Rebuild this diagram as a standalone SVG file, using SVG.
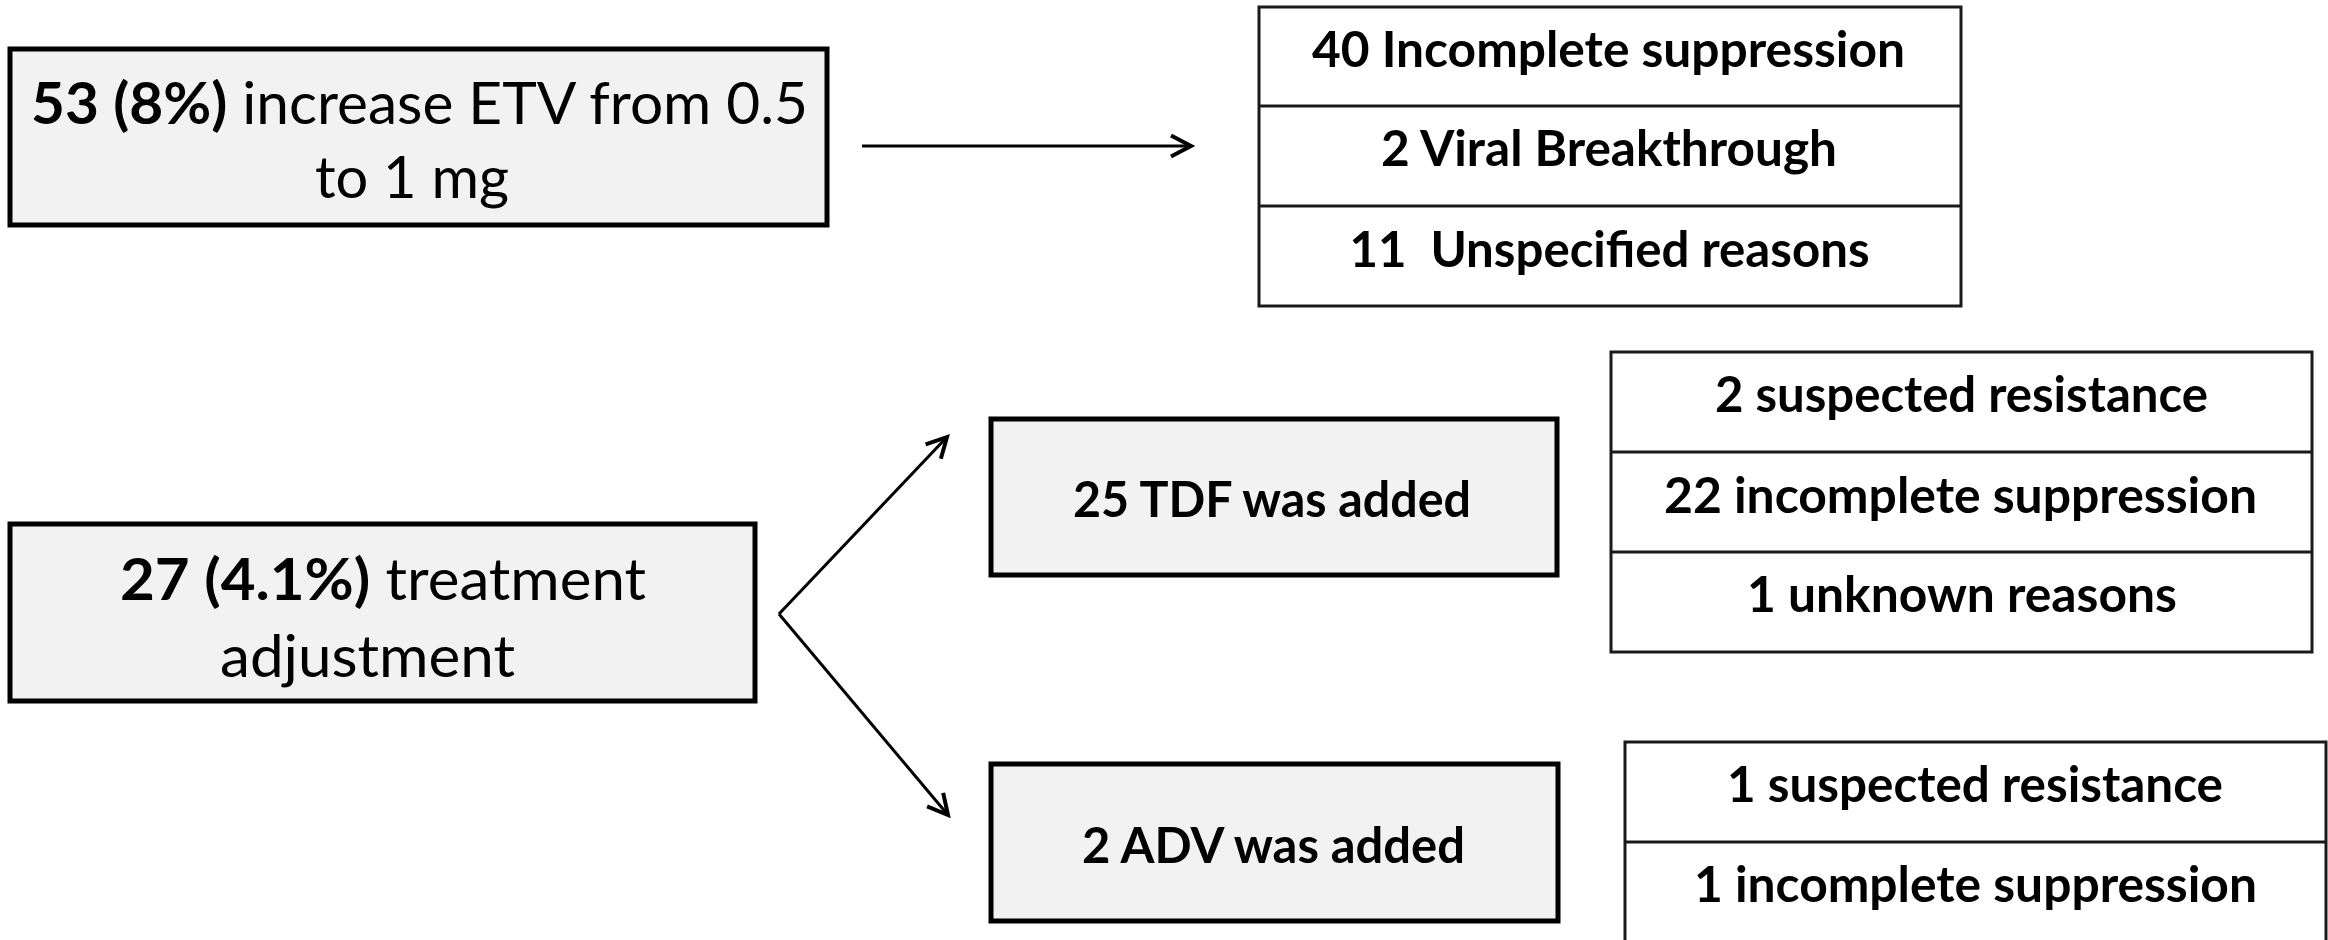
<svg xmlns="http://www.w3.org/2000/svg" width="2328" height="940" viewBox="0 0 2328 940">
<style>
.box{fill:#f2f2f2;stroke:#000;stroke-width:5}
.tbl{fill:#fff;stroke:#1a1a1a;stroke-width:3}
.div{stroke:#1a1a1a;stroke-width:3}
.t{font-family:Lato,"Liberation Sans",sans-serif;fill:#000;text-anchor:middle}
.b{font-weight:bold}
.big{font-size:58px}
.tb{font-size:50px;font-weight:bold}
.conn{stroke:#000;stroke-width:3;fill:none}
</style>
<defs>
<marker id="arr" markerUnits="userSpaceOnUse" markerWidth="40" markerHeight="40" viewBox="-30 -20 40 40" refX="0" refY="0" orient="auto">
<path d="M-20,-10.5 L0,0 L-20,10.5" fill="none" stroke="#000" stroke-width="4"/>
</marker>
</defs>
<rect width="2328" height="940" fill="#fff"/>
<g id="connectors">
<line class="conn" x1="862" y1="146" x2="1191" y2="146" marker-end="url(#arr)"/>
<line class="conn" x1="779" y1="614" x2="947" y2="437" marker-end="url(#arr)"/>
<line class="conn" x1="779" y1="614" x2="948" y2="815" marker-end="url(#arr)"/>
</g>
<g id="node-increase">
<rect class="box" x="10" y="49" width="817" height="176"/>
<text class="t big" x="419.5" y="124" textLength="777" lengthAdjust="spacingAndGlyphs"><tspan class="b">53 (8%)</tspan> increase ETV from 0.5</text>
<text class="t big" x="412" y="198" textLength="194" lengthAdjust="spacingAndGlyphs">to 1 mg</text>
</g>
<g id="node-reasons1">
<rect class="tbl" x="1259" y="7" width="702" height="299"/>
<line class="div" x1="1259" y1="106" x2="1961" y2="106"/>
<line class="div" x1="1259" y1="206" x2="1961" y2="206"/>
<text class="t tb" x="1608.5" y="67" textLength="593" lengthAdjust="spacingAndGlyphs">40 Incomplete suppression</text>
<text class="t tb" x="1609" y="166" textLength="456" lengthAdjust="spacingAndGlyphs">2 Viral Breakthrough</text>
<text class="t tb" x="1609.5" y="267" textLength="520" lengthAdjust="spacingAndGlyphs" xml:space="preserve">11  Unspecified reasons</text>
</g>
<g id="node-adjust">
<rect class="box" x="10" y="524" width="745" height="177"/>
<text class="t big" x="383" y="600" textLength="526" lengthAdjust="spacingAndGlyphs"><tspan class="b">27 (4.1%)</tspan> treatment</text>
<text class="t big" x="367.5" y="677" textLength="295" lengthAdjust="spacingAndGlyphs">adjustment</text>
</g>
<g id="node-tdf">
<rect class="box" x="991" y="419" width="566" height="156"/>
<text class="t tb" x="1272" y="517" textLength="398" lengthAdjust="spacingAndGlyphs">25 TDF was added</text>
</g>
<g id="node-reasons2">
<rect class="tbl" x="1611" y="352" width="701" height="300"/>
<line class="div" x1="1611" y1="452" x2="2312" y2="452"/>
<line class="div" x1="1611" y1="552" x2="2312" y2="552"/>
<text class="t tb" x="1961.5" y="412" textLength="493" lengthAdjust="spacingAndGlyphs">2 suspected resistance</text>
<text class="t tb" x="1960.5" y="513" textLength="593" lengthAdjust="spacingAndGlyphs">22 incomplete suppression</text>
<text class="t tb" x="1962" y="612" textLength="430" lengthAdjust="spacingAndGlyphs">1 unknown reasons</text>
</g>
<g id="node-adv">
<rect class="box" x="991" y="764" width="567" height="157"/>
<text class="t tb" x="1273.5" y="863" textLength="383" lengthAdjust="spacingAndGlyphs">2 ADV was added</text>
</g>
<g id="node-reasons3">
<rect class="tbl" x="1625" y="742" width="701" height="300"/>
<line class="div" x1="1625" y1="842" x2="2326" y2="842"/>
<text class="t tb" x="1975" y="802" textLength="496" lengthAdjust="spacingAndGlyphs">1 suspected resistance</text>
<text class="t tb" x="1975.5" y="902" textLength="563" lengthAdjust="spacingAndGlyphs">1 incomplete suppression</text>
</g>
</svg>
